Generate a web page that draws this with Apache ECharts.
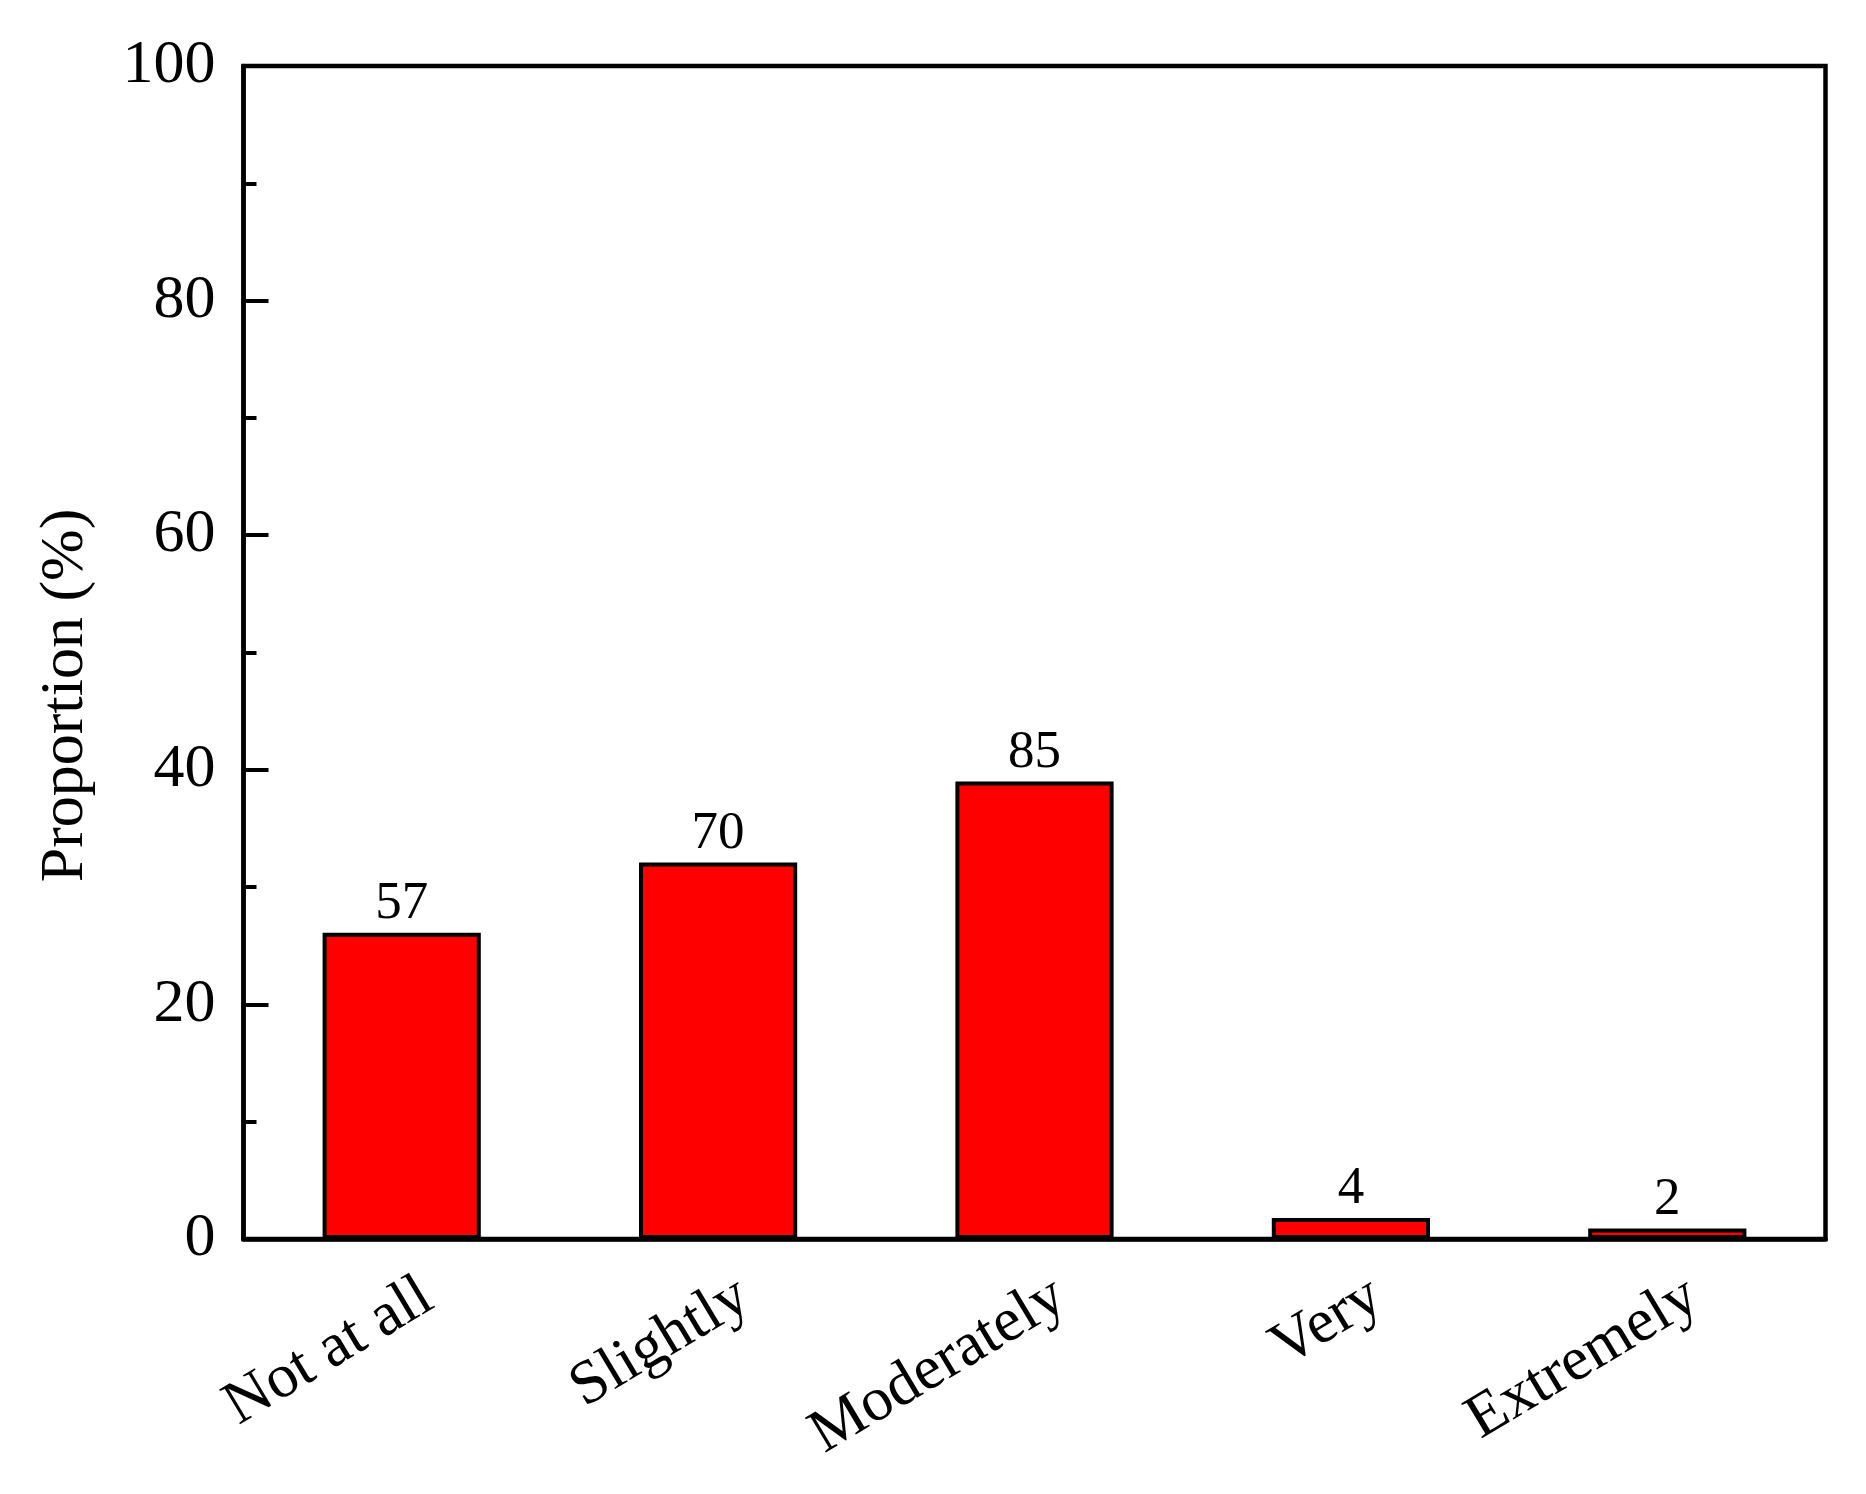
<!DOCTYPE html>
<html>
<head>
<meta charset="utf-8">
<script src="https://cdn.jsdelivr.net/npm/echarts@6/dist/echarts.min.js"></script>
<style>
html,body{margin:0;padding:0;background:#fff;}
#chart{width:1866px;height:1494px;}
</style>
</head>
<body>
<div id="chart"></div>
<script>
const categories = ['Not at all', 'Slightly', 'Moderately', 'Very', 'Extremely'];
const proportions = [26.1, 32.1, 39.0, 1.8, 0.9];
const countLabels = ['57', '70', '85', '4', '2'];
const yTicks = [0, 20, 40, 60, 80, 100];

const FONT = "'Liberation Serif', 'Times New Roman', serif";
const chart = echarts.init(document.getElementById('chart'), null, {renderer: 'canvas'});
chart.setOption({
  backgroundColor: '#ffffff',
  animation: false,
  grid: {
    left: 243.5, right: 40.5, top: 66, bottom: 255,
    outerBoundsMode: 'none',
    containLabel: false,
    show: true, borderColor: '#000', borderWidth: 4.5, backgroundColor: 'transparent'
  },
  xAxis: {
    type: 'category',
    data: categories,
    axisLine: {show: true, lineStyle: {color: '#000', width: 4.5}},
    axisTick: {show: false},
    axisLabel: {
      rotate: 31, margin: 33, color: '#000',
      verticalAlign: 'top',
      padding: [0, -12, 0, 0],
      fontFamily: FONT, fontSize: 62
    },
    splitLine: {show: false}
  },
  yAxis: {
    type: 'value',
    min: yTicks[0], max: yTicks[yTicks.length - 1], interval: 20,
    name: 'Proportion (%)',
    nameLocation: 'middle',
    nameGap: 147,
    nameTextStyle: {fontFamily: FONT, fontSize: 62, color: '#000', padding: [0, 86, 0, 0]},
    axisLine: {show: true, lineStyle: {color: '#000', width: 4.5}},
    axisTick: {show: true, inside: true, length: 25, lineStyle: {color: '#000', width: 4}},
    minorTick: {show: true, splitNumber: 2, length: 13, lineStyle: {color: '#000', width: 4}},
    axisLabel: {margin: 28, color: '#000', fontFamily: FONT, fontSize: 62},
    splitLine: {show: false}
  },
  series: [{
    type: 'bar',
    data: proportions,
    barWidth: '50%',
    itemStyle: {color: '#ff0000', borderColor: '#000', borderWidth: 4},
    label: {
      show: true, position: 'top', distance: 2,
      fontFamily: FONT, fontSize: 53, color: '#000',
      formatter: p => countLabels[p.dataIndex]
    }
  }]
});
</script>
</body>
</html>
